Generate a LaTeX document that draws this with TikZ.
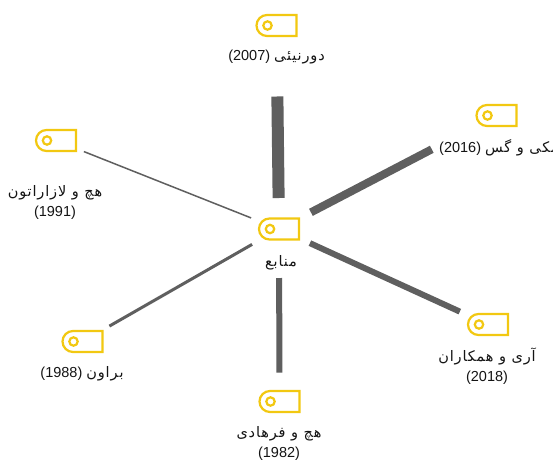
\documentclass[tikz,border=0pt]{standalone}
\usepackage{fontspec}
\setmainfont{Liberation Sans}
\newfontfamily\fa[Script=Arabic,LetterSpace=6]{DejaVu Sans}
\TeXXeTstate=1
\usetikzlibrary{shapes.misc}
\definecolor{tagy}{HTML}{F2C811}
\definecolor{linkg}{HTML}{5F5F5F}
\newcommand{\faline}[2]{\beginR{\fa #1}\ifx&#2&\else{ }\beginL(#2)\endL\fi\endR}
\tikzset{
  tagicon/.style={rounded rectangle, rounded rectangle right arc=none, draw=tagy, line width=2.2pt,
    minimum width=40pt, minimum height=21pt, inner sep=0pt,
    path picture={\draw[tagy, line width=2.2pt] ([xshift=-9pt]path picture bounding box.center) circle (4.2pt);}},
  lbl/.style={font=\fontsize{14.5}{19.5}\selectfont, text=black!92, align=center, inner sep=0pt},
  link/.style={draw=linkg, line cap=butt}
}
\begin{document}
\begin{tikzpicture}[x=1pt,y=-1pt]
\useasboundingbox (0,0) rectangle (553,461);
\fill[white] (0,0) rectangle (553,461);
\clip (0,0) rectangle (553,461);
\node[tagicon] (c) at (279,229) {};
\node[tagicon] (top) at (276.5,25.5) {};
\node[tagicon] (mg) at (496.5,115.5) {};
\node[tagicon] (hl) at (56,140.5) {};
\node[tagicon] (ar) at (488,324.5) {};
\node[tagicon] (hf) at (279.5,401.5) {};
\node[tagicon] (br) at (82.5,341.5) {};
\node[lbl] (tc) at (281,262.5) {\faline{منابع}{}};
\node[lbl] (ttop) at (276.5,57.5) {\faline{دورنیئی}{2007}};
\node[lbl, anchor=west] (tmg) at (439,148) {\faline{مکی و گس}{2016}};
\node[lbl] (thl) at (55,202.5) {\faline{هچ و لازاراتون}{}\\(1991)};
\node[lbl] (tar) at (487,366) {\faline{آری و همکاران}{}\\(2018)};
\node[lbl] (thf) at (279,443.5) {\faline{هچ و فرهادی}{}\\(1982)};
\node[lbl] (tbr) at (82,373.5) {\faline{براون}{1988}};
\draw[link, line width=12pt, shorten <=31pt, shorten >=71pt] (c.center) -- (top.center);
\draw[link, line width=8pt, shorten <=36pt, shorten >=73pt] (c.center) -- (mg.center);
\draw[link, line width=6pt, shorten <=34pt, shorten >=31pt] (c.center) -- (ar.center);
\draw[link, line width=6pt, shorten <=49pt, shorten >=29pt] (c.center) -- (hf.center);
\draw[link, line width=3pt, shorten <=31pt, shorten >=31pt] (c.center) -- (br.center);
\draw[link, line width=1.5pt, shorten <=30pt, shorten >=30pt] (c.center) -- (hl.center);
\end{tikzpicture}
\end{document}
